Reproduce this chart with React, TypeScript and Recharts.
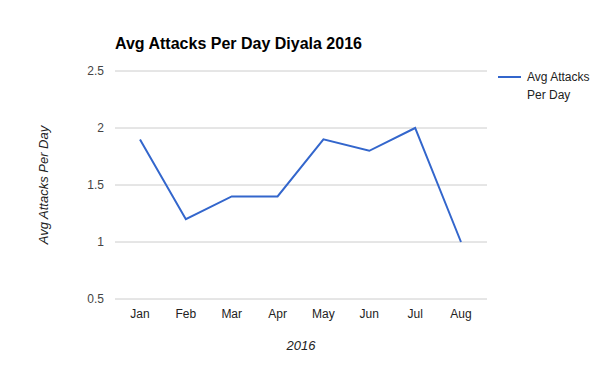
import React from 'react';
import { LineChart, Line, XAxis, YAxis, CartesianGrid, Label } from 'recharts';

const months = ['Jan', 'Feb', 'Mar', 'Apr', 'May', 'Jun', 'Jul', 'Aug'];
const avgAttacks = [1.9, 1.2, 1.4, 1.4, 1.9, 1.8, 2.0, 1.0];
const yTicks = [0.5, 1, 1.5, 2, 2.5];

const data = months.map((m, i) => ({ month: m, value: avgAttacks[i] }));

const FONT = '"Liberation Sans", Arial, sans-serif';
const BLUE = '#3366cc';

function LegendBox() {
  return (
    <div
      style={{
        position: 'absolute',
        left: 498,
        top: 68,
        display: 'flex',
        alignItems: 'flex-start',
        fontFamily: FONT,
        fontSize: 12,
        color: '#222',
      }}
    >
      <svg width={29} height={18} style={{ flex: 'none' }}>
        <line x1={0} y1={9} x2={23} y2={9} stroke={BLUE} strokeWidth={2} />
      </svg>
      <div style={{ lineHeight: '18px' }}>
        Avg Attacks
        <br />
        Per Day
      </div>
    </div>
  );
}

export default function App() {
  return (
    <div style={{ position: 'absolute', left: 0, top: 0, width: 600, height: 371, background: '#fff' }}>
      <LineChart width={600} height={371} data={data} margin={{ top: 71, right: 113, bottom: 42, left: 0 }}>
        <CartesianGrid vertical={false} stroke="#cccccc" />
        <XAxis
          dataKey="month"
          height={30}
          axisLine={false}
          tickLine={false}
          tickSize={6}
          tickMargin={4}
          padding={{ left: 25, right: 26 }}
          tick={{ fill: '#222', fontSize: 12, fontFamily: FONT }}
          interval={0}
        >
          <Label
            content={({ viewBox }: any) => (
              <text
                x={viewBox.x + viewBox.width / 2}
                y={350}
                textAnchor="middle"
                fontStyle="italic"
                fontSize={13}
                fontFamily={FONT}
                fill="#222"
              >
                2016
              </text>
            )}
          />
        </XAxis>
        <YAxis
          width={115}
          domain={[0.5, 2.5]}
          ticks={yTicks}
          axisLine={false}
          tickLine={false}
          tickSize={6}
          tickMargin={5}
          tick={{ fill: '#444', fontSize: 12, fontFamily: FONT }}
        >
          <Label
            content={({ viewBox }: any) => (
              <text
                x={48}
                y={viewBox.y + viewBox.height / 2}
                transform={`rotate(-90 48 ${viewBox.y + viewBox.height / 2})`}
                textAnchor="middle"
                fontStyle="italic"
                fontSize={13}
                fontFamily={FONT}
                fill="#222"
              >
                Avg Attacks Per Day
              </text>
            )}
          />
        </YAxis>
        <Line
          type="linear"
          dataKey="value"
          name="Avg Attacks Per Day"
          stroke={BLUE}
          strokeWidth={2}
          dot={false}
          activeDot={false}
          isAnimationActive={false}
        />
      </LineChart>
      <div
        style={{
          position: 'absolute',
          left: 115,
          top: 35,
          fontFamily: FONT,
          fontWeight: 'bold',
          fontSize: 16,
          color: '#000',
          whiteSpace: 'nowrap',
        }}
      >
        Avg Attacks Per Day Diyala 2016
      </div>
      <LegendBox />
    </div>
  );
}
